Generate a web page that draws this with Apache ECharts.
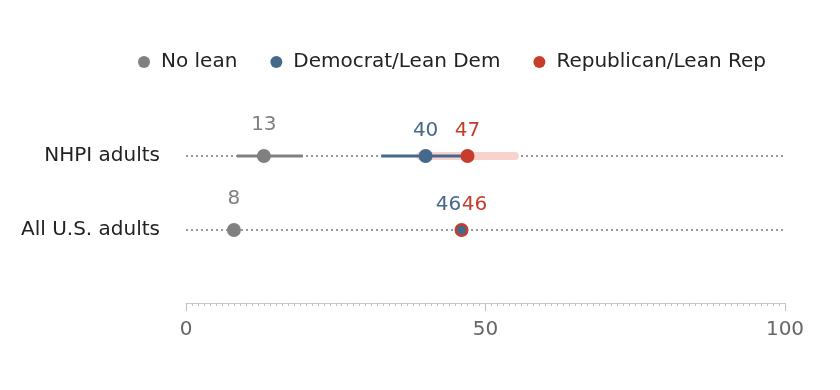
<!DOCTYPE html>
<html>
<head>
<meta charset="utf-8">
<script src="https://cdn.jsdelivr.net/npm/echarts@6/dist/echarts.min.js"></script>
<style>
html,body{margin:0;padding:0;background:#fff;}
#chart{width:840px;height:390px;}
</style>
</head>
<body>
<div id="chart"></div>
<script>
var categories = ['NHPI adults', 'All U.S. adults'];
var seriesNames = ['No lean', 'Democrat/Lean Dem', 'Republican/Lean Rep'];
var noLean = [13, 8];
var dem = [40, 46];
var rep = [47, 46];
var noLeanLow = [8.5, null];
var noLeanHigh = [19.5, null];
var demLow = [32.6, null];
var demHigh = [47.4, null];
var repLow = [39.1, null];
var repHigh = [54.9, null];
var xTicks = [0, 50, 100];

var FONT = 'DejaVu Sans';
var GRAY = '#808080', BLUE = '#44698b', RED = '#c63d2b', PINK = '#f8d3ce';

function rangeData(low, high) {
  var out = [];
  for (var i = 0; i < categories.length; i++) {
    if (low[i] != null && high[i] != null) out.push([low[i], high[i], i]);
  }
  return out;
}
function rangeSeries(low, high, color, width, cap, z) {
  return {
    type: 'custom', z: z, silent: true,
    data: rangeData(low, high),
    encode: { x: [0, 1], y: 2 },
    renderItem: function (params, api) {
      var a = api.coord([api.value(0), api.value(2)]);
      var b = api.coord([api.value(1), api.value(2)]);
      return { type: 'line', shape: { x1: a[0], y1: a[1], x2: b[0], y2: b[1] },
        style: { stroke: color, lineWidth: width, lineCap: cap } };
    }
  };
}
function pointData(vals) {
  return vals.map(function (v, i) { return [v, categories[i]]; });
}
function valueFmt(p) { return p.value[0]; }

var option = {
  animation: false,
  textStyle: { fontFamily: FONT },
  legend: {
    data: seriesNames,
    left: 133, top: 47,
    icon: 'circle', itemWidth: 24, itemHeight: 12, itemGap: 33,
    textStyle: { fontFamily: FONT, fontSize: 20, color: '#222' }
  },
  grid: { left: 186, right: 55, top: 119, bottom: 123 },
  xAxis: {
    type: 'value', min: xTicks[0], max: xTicks[xTicks.length - 1], interval: xTicks[1] - xTicks[0],
    offset: 36,
    axisLine: { show: true, lineStyle: { color: '#c8c8c8', width: 1 } },
    axisTick: { show: true, length: 8, lineStyle: { color: '#c0c0c0' } },
    minorTick: { show: true, splitNumber: 50, length: 3, lineStyle: { color: '#c0c0c0' } },
    splitLine: { show: false },
    axisLabel: { margin: 17, fontFamily: FONT, fontSize: 20, color: '#666' }
  },
  yAxis: {
    type: 'category', data: categories, inverse: true,
    axisLine: { show: false }, axisTick: { show: false }, splitLine: { show: false },
    axisLabel: { margin: 26, fontFamily: FONT, fontSize: 20, color: '#222' }
  },
  series: [
    rangeSeries(repLow, repHigh, PINK, 8, 'round', 2),
    rangeSeries(noLeanLow, noLeanHigh, GRAY, 3, 'butt', 3),
    rangeSeries(demLow, demHigh, BLUE, 3, 'butt', 3),
    {
      name: seriesNames[0], type: 'scatter', z: 5,
      data: pointData(noLean), symbolSize: 14,
      itemStyle: { color: GRAY, opacity: 1 },
      label: { show: true, position: 'top', distance: 14, color: GRAY, fontSize: 20, fontFamily: FONT,
        formatter: valueFmt },
      markLine: {
        silent: true, symbol: 'none', z: 1,
        label: { show: false },
        lineStyle: { type: [2, 3], color: '#999999', width: 2 },
        data: categories.map(function (c) { return { yAxis: c }; })
      }
    },
    {
      name: seriesNames[2], type: 'scatter', z: 6,
      data: pointData(rep).map(function (d, i) {
        return { value: d, label: { offset: [rep[i] === dem[i] ? 13 : 0, 0] } };
      }),
      symbolSize: 14,
      itemStyle: { color: RED, opacity: 1 },
      label: { show: true, position: 'top', distance: 8, color: RED, fontSize: 20, fontFamily: FONT,
        formatter: valueFmt }
    },
    {
      name: seriesNames[1], type: 'scatter', z: 7,
      data: pointData(dem).map(function (d, i) {
        var same = rep[i] === dem[i];
        return { value: d, symbolSize: same ? 9 : 14,
          label: { offset: [same ? -13 : 0, 0], distance: same ? 10.5 : 8 } };
      }),
      itemStyle: { color: BLUE, opacity: 1 },
      label: { show: true, position: 'top', distance: 8, color: BLUE, fontSize: 20, fontFamily: FONT,
        formatter: valueFmt }
    }
  ]
};

var chart = echarts.init(document.getElementById('chart'), null, { renderer: 'canvas' });
chart.setOption(option);
</script>
</body>
</html>
